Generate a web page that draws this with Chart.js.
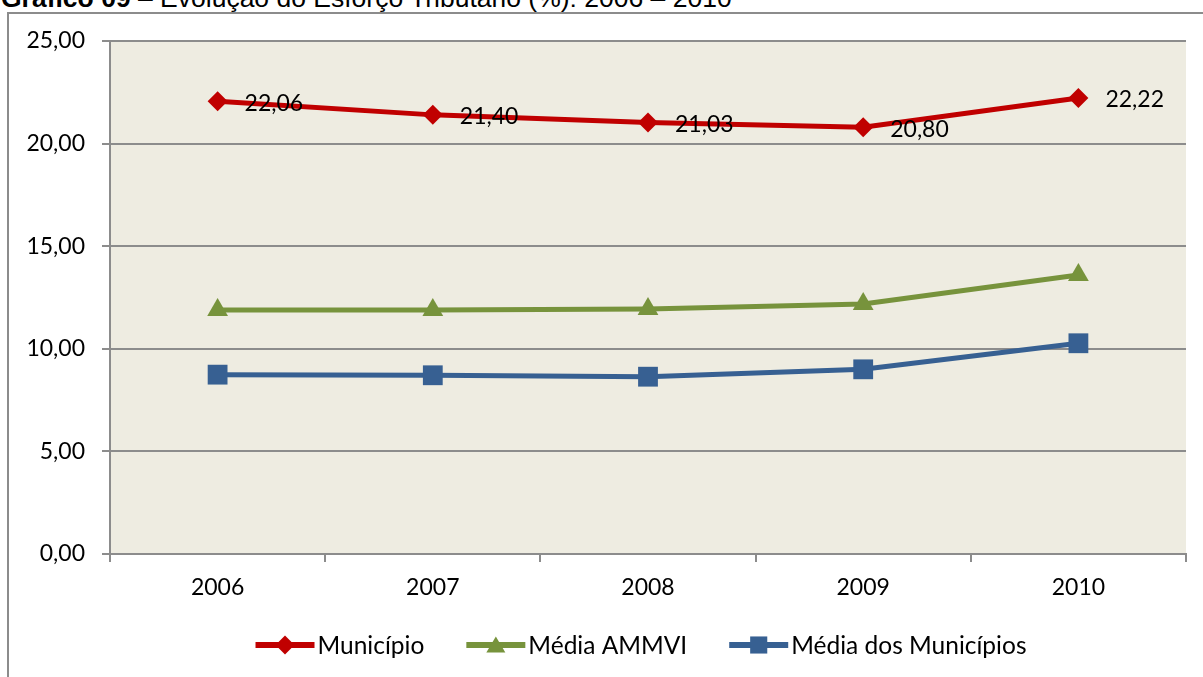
<!DOCTYPE html>
<html lang="pt">
<head>
<meta charset="UTF-8">
<title>Evolução do Esforço Tributário</title>
<script src="https://cdn.jsdelivr.net/npm/chart.js"></script>
<style>
  body { margin: 0; width: 1203px; height: 677px; overflow: hidden; background: #fff; position: relative; }
  .titulo {
    position: absolute; left: 1px; top: -15px; margin: 0;
    font-family: 'Liberation Sans', Arial, sans-serif; font-size: 26.5px; line-height: 26.5px;
    color: #000; white-space: nowrap; font-weight: normal;
  }
  .moldura {
    position: absolute; left: 7px; top: 12px; width: 1300px; height: 800px;
    border-left: 2px solid #8c8c8c; border-top: 2px solid #8c8c8c;
  }
  #grafico { position: absolute; left: 0; top: 0; }
</style>
</head>
<body>
<h1 class="titulo"><b>Gráfico 09</b> – Evolução do Esforço Tributário (%): 2006 – 2010</h1>
<div class="moldura"></div>
<canvas id="grafico" width="1203" height="677"></canvas>

<script>
// dados
const anos = ['2006', '2007', '2008', '2009', '2010'];
const municipio = [22.06, 21.40, 21.03, 20.80, 22.22];
const mediaAmmvi = [11.89, 11.89, 11.94, 12.18, 13.60];
const mediaMunicipios = [8.74, 8.71, 8.64, 9.00, 10.27];
const ticksY = [0, 5, 10, 15, 20, 25];

const fonte = "23px Lato, sans-serif";
const fonteLegenda = "24.5px Lato, sans-serif";
const virgula = v => v.toFixed(2).replace('.', ',');

// fundo da área de plotagem
const fundoPlot = {
  id: 'fundoPlot',
  beforeDraw(chart) {
    const {ctx, chartArea: a} = chart;
    ctx.save();
    ctx.fillStyle = '#EEECE1';
    ctx.fillRect(a.left, a.top, a.right - a.left, a.bottom - a.top);
    ctx.restore();
  }
};

// rótulos só na série Município
const rotulos = {
  id: 'rotulos',
  afterDatasetsDraw(chart) {
    const ctx = chart.ctx;
    const meta = chart.getDatasetMeta(0);
    ctx.save();
    ctx.font = fonte;
    ctx.fillStyle = '#000';
    ctx.textAlign = 'left';
    ctx.textBaseline = 'middle';
    meta.data.forEach((p, i) => {
      ctx.fillText(virgula(municipio[i]), p.x + 27, p.y + 2);
    });
    ctx.restore();
  }
};

function marcador(ctx, tipo, x, y, r, cor) {
  ctx.fillStyle = cor;
  ctx.beginPath();
  if (tipo === 'rectRot') {
    ctx.moveTo(x, y - r); ctx.lineTo(x + r, y); ctx.lineTo(x, y + r); ctx.lineTo(x - r, y);
  } else if (tipo === 'triangle') {
    ctx.moveTo(x, y - r * 0.9); ctx.lineTo(x + r, y + r * 0.8); ctx.lineTo(x - r, y + r * 0.8);
  } else {
    ctx.rect(x - r * 0.9, y - r * 0.9, r * 1.8, r * 1.8);
  }
  ctx.closePath();
  ctx.fill();
}

// legenda com linha + marcador, como no Excel
const legendaLinha = {
  id: 'legendaLinha',
  afterDraw(chart) {
    const ctx = chart.ctx;
    const dsets = chart.data.datasets;
    const icone = 59, gap = 3, entre = 42;
    ctx.save();
    ctx.font = fonteLegenda;
    const larg = dsets.map(d => icone + gap + ctx.measureText(d.label).width);
    const total = larg.reduce((a, b) => a + b, 0) + entre * (dsets.length - 1);
    let x = 641 - total / 2;
    const y = 645;
    dsets.forEach((d, i) => {
      ctx.strokeStyle = d.borderColor;
      ctx.lineWidth = 6;
      ctx.lineCap = 'butt';
      ctx.beginPath();
      ctx.moveTo(x, y);
      ctx.lineTo(x + icone, y);
      ctx.stroke();
      marcador(ctx, d.pointStyle, x + icone / 2, y, 9.5, d.borderColor);
      ctx.fillStyle = '#000';
      ctx.textBaseline = 'middle';
      ctx.textAlign = 'left';
      ctx.fillText(d.label, x + icone + gap, y + 1);
      x += larg[i] + entre;
    });
    ctx.restore();
  }
};

function serie(label, data, cor, estilo, raio) {
  return {
    label, data,
    borderColor: cor, backgroundColor: cor,
    borderWidth: 5,
    pointStyle: estilo, pointRadius: raio, pointHoverRadius: raio,
    pointBorderWidth: 0,
    tension: 0, fill: false
  };
}

new Chart(document.getElementById('grafico'), {
  type: 'line',
  data: {
    labels: anos,
    datasets: [
      serie('Município', municipio, '#C00000', 'rectRot', 10),
      serie('Média AMMVI', mediaAmmvi, '#77933C', 'triangle', 12),
      serie('Média dos Municípios', mediaMunicipios, '#376092', 'rect', 14)
    ]
  },
  options: {
    responsive: false,
    devicePixelRatio: 1,
    animation: false,
    layout: { padding: { left: 0, right: 17, top: 41, bottom: 0 } },
    plugins: {
      legend: { display: false },
      tooltip: { enabled: false }
    },
    scales: {
      x: {
        offset: true,
        grid: { offset: true, drawOnChartArea: false, drawTicks: true, tickLength: 8, color: '#8c8c8c', lineWidth: 2 },
        border: { display: true, color: '#8c8c8c', width: 2 },
        ticks: { color: '#000', font: { family: 'Lato', size: 23 }, padding: 12, maxRotation: 0 },
        afterFit: s => { s.height = 123; }
      },
      y: {
        min: 0, max: 25,
        afterBuildTicks: s => { s.ticks = ticksY.map(v => ({ value: v })); },
        grid: { color: '#8c8c8c', lineWidth: 2, tickLength: 8 },
        border: { display: true, color: '#8c8c8c', width: 2 },
        ticks: { color: '#000', font: { family: 'Lato', size: 23 }, padding: 17, callback: v => virgula(v) },
        afterFit: s => { s.width = 110; }
      }
    }
  },
  plugins: [fundoPlot, rotulos, legendaLinha]
});
</script>
</body>
</html>
